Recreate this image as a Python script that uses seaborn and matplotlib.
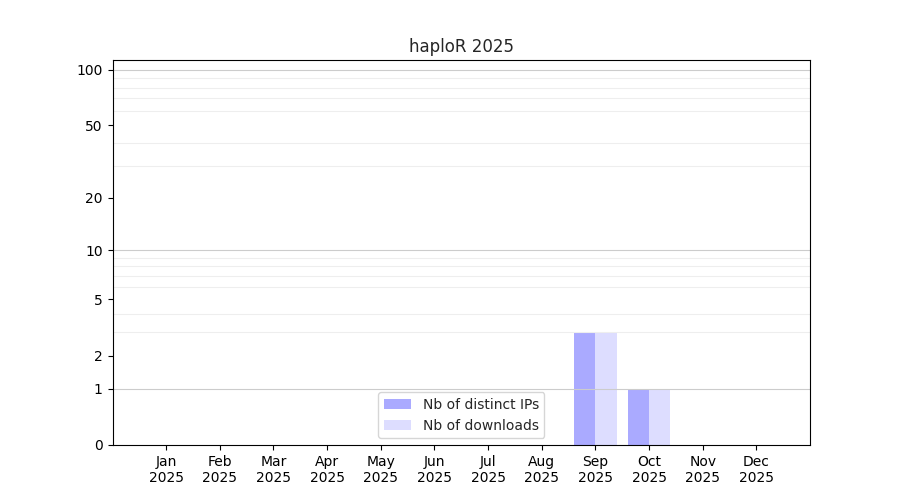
import numpy as np
import pandas as pd
import matplotlib
matplotlib.use("Agg")
import matplotlib.pyplot as plt
import seaborn as sns

months = ["Jan", "Feb", "Mar", "Apr", "May", "Jun",
          "Jul", "Aug", "Sep", "Oct", "Nov", "Dec"]
year = "2025"
distinct_ips = [0, 0, 0, 0, 0, 0, 0, 0, 3, 1, 0, 0]
downloads = [0, 0, 0, 0, 0, 0, 0, 0, 3, 1, 0, 0]
tick_values = [0, 1, 2, 5, 10, 20, 50, 100]

labels = [f"{m}\n{year}" for m in months]
df = pd.DataFrame({
    "month": labels * 2,
    "count": distinct_ips + downloads,
    "serie": ["Nb of distinct IPs"] * 12 + ["Nb of downloads"] * 12,
})

sns.set_style("ticks")
plt.rcParams['font.family'] = ['DejaVu Sans']

fig, ax = plt.subplots(figsize=(9, 5), dpi=100)
fig.subplots_adjust(left=0.125, right=0.9, bottom=0.11, top=0.88)

ax.set_yscale('function', functions=(lambda x: np.log10(1 + np.clip(x, 0, None)),
                                     lambda y: 10 ** y - 1))

sns.barplot(data=df, x="month", y="count", hue="serie",
            palette=["#aaaaff", "#ddddff"], width=0.8, gap=0,
            saturation=1, linewidth=0, ax=ax, zorder=1)

ax.set_ylim(0, 113)
ax.set_xlim(-1, 12)
ax.set_yticks(tick_values)
ax.set_yticklabels([str(v) for v in tick_values])
# light grid at 2..9 and 20..90, darker at each decade
minor = [k * d for d in (1, 10) for k in range(2, 10)]
ax.set_yticks(minor, minor=True)
ax.tick_params(axis='y', which='minor', length=0)
ax.set_axisbelow(False)
ax.grid(axis='y', which='minor', color='#eeeeee', linewidth=0.8)
for v in (1, 10, 100):
    ax.axhline(v, color='#cccccc', linewidth=0.8, zorder=2)

for s in ax.spines.values():
    s.set_visible(True)
    s.set_color('black')
    s.set_zorder(4)
ax.tick_params(axis='both', colors='black', labelsize=10)
ax.set_xlabel("")
ax.set_ylabel("")
ax.set_title("haploR 2025", fontsize=12)
ax.legend(title=None, loc='lower center', frameon=True)

fig.savefig("out.png", dpi=100)
